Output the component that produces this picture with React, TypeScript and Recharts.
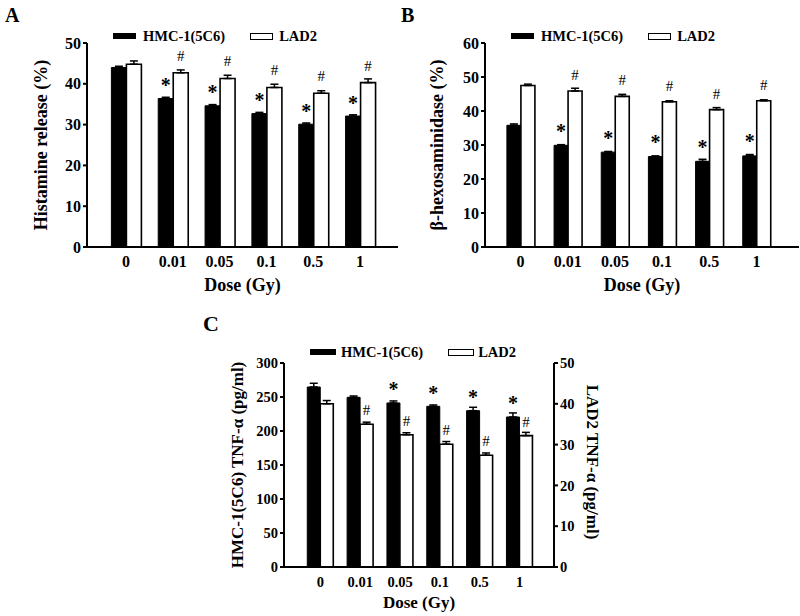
import React from 'react';
import { BarChart, Bar, XAxis, YAxis, ErrorBar, LabelList, Legend, Label } from 'recharts';

const FONT = '"Liberation Serif", "Times New Roman", serif';

// categories
const doses = ['0', '0.01', '0.05', '0.1', '0.5', '1'];

// Panel A: histamine release (%)
const histHmc = [44.0, 36.4, 34.6, 32.7, 30.1, 32.1];
const histHmcErr = [0.3, 0.3, 0.3, 0.3, 0.3, 0.3];
const histLad = [44.8, 42.7, 41.3, 39.1, 37.7, 40.3];
const histLadErr = [0.8, 0.7, 0.8, 0.8, 0.6, 0.9];
const histHmcMarks = ['', '*', '*', '*', '*', '*'];
const histLadMarks = ['', '#', '#', '#', '#', '#'];

// Panel B: beta-hexosaminidase (%)
const hexHmc = [35.8, 29.9, 27.9, 26.6, 25.2, 26.8];
const hexHmcErr = [0.4, 0.2, 0.2, 0.2, 0.6, 0.4];
const hexLad = [47.5, 45.9, 44.3, 42.7, 40.4, 43.0];
const hexLadErr = [0.4, 0.8, 0.6, 0.3, 0.6, 0.3];
const hexHmcMarks = ['', '*', '*', '*', '*', '*'];
const hexLadMarks = ['', '#', '#', '#', '#', '#'];

// Panel C: TNF-alpha (pg/ml)
const tnfHmc = [264.7, 249.5, 241.2, 236.3, 229.9, 220.6];
const tnfHmcErr = [5.5, 2, 3, 2, 5, 6];
const tnfLad = [40.0, 35.0, 32.4, 30.1, 27.4, 32.2];
const tnfLadErr = [0.8, 0.5, 0.5, 0.65, 0.55, 0.8];
const tnfHmcMarks = ['', '', '*', '*', '*', '*'];
const tnfLadMarks = ['', '#', '#', '#', '#', '#'];

// tick labels
const ticksA = [0, 10, 20, 30, 40, 50];
const ticksB = [0, 10, 20, 30, 40, 50, 60];
const ticksCLeft = [0, 50, 100, 150, 200, 250, 300];
const ticksCRight = [0, 10, 20, 30, 40, 50];

function buildRows(hmc: number[], hmcErr: number[], lad: number[], ladErr: number[], hm: string[], lm: string[]) {
  return doses.map((d, i) => ({
    dose: d,
    hmc: hmc[i],
    hmcErr: [0, hmcErr[i]],
    lad: lad[i],
    ladErr: [0, ladErr[i]],
    hmcMark: hm[i],
    ladMark: lm[i],
  }));
}

const rowsA = buildRows(histHmc, histHmcErr, histLad, histLadErr, histHmcMarks, histLadMarks);
const rowsB = buildRows(hexHmc, hexHmcErr, hexLad, hexLadErr, hexHmcMarks, hexLadMarks);
const rowsC = buildRows(tnfHmc, tnfHmcErr, tnfLad, tnfLadErr, tnfHmcMarks, tnfLadMarks);

const makeMark = (gap: number, kind: 'star' | 'hash') => (props: any) => {
  const vb = props.viewBox && props.viewBox.width != null ? props.viewBox : props;
  const value = props.value;
  if (!value) return null;
  const cx = Number(vb.x) + Number(vb.width) / 2;
  const cy = Number(vb.y) - gap;
  if (kind === 'star') {
    return (
      <text x={cx} y={cy + 9.5} textAnchor="middle" fontSize={20} fontWeight="bold" fontFamily={FONT} fill="#000">
        {value}
      </text>
    );
  }
  return (
    <text x={cx} y={cy + 5} textAnchor="middle" fontSize={15} fontFamily={FONT} fill="#000">
      {value}
    </text>
  );
};

const LegendBox = ({ blackW, textGap }: { blackW: number; textGap: number }) => (
  <div
    style={{
      display: 'flex',
      alignItems: 'center',
      fontFamily: FONT,
      fontWeight: 'bold',
      fontSize: 14.5,
      whiteSpace: 'nowrap',
      lineHeight: 1,
      color: '#000',
    }}
  >
    <span style={{ display: 'inline-block', width: blackW, height: 6, background: '#000' }} />
    <span style={{ marginLeft: textGap }}>HMC-1(5C6)</span>
    <span
      style={{
        display: 'inline-block',
        width: blackW,
        height: 7,
        boxSizing: 'border-box',
        border: '1.5px solid #000',
        background: '#fff',
        marginLeft: 25,
      }}
    />
    <span style={{ marginLeft: textGap - 1 }}>LAD2</span>
  </div>
);

const tickStyle = (size: number) => ({ fontFamily: FONT, fontSize: size, fontWeight: 'bold', fill: '#000' });
const axisLine = { stroke: '#000', strokeWidth: 2 };

const titleProps = (size: number) => ({ fontFamily: FONT, fontSize: size, fontWeight: 'bold', fill: '#000' });

type PanelProps = {
  rows: any[];
  width: number;
  height: number;
  marginTop: number;
  marginRight: number;
  yWidth: number;
  xHeight: number;
  yMax: number;
  yTicks: number[];
  yTitle: string;
  yTitleDx: number;
  padL: number;
  padR: number;
  gap: string;
  legendLeft: number;
  legendTop: number;
  starGap: number;
  hashGap: number;
};

function SimplePanel(p: PanelProps) {
  return (
    <BarChart
      width={p.width}
      height={p.height}
      data={p.rows}
      margin={{ top: p.marginTop, right: p.marginRight, left: 0, bottom: 0 }}
      barGap={0}
      barCategoryGap={p.gap}
    >
      <XAxis
        dataKey="dose"
        height={p.xHeight}
        axisLine={axisLine}
        tickLine={false}
        tickSize={6}
        tickMargin={3}
        padding={{ left: p.padL, right: p.padR }}
        tick={tickStyle(16)}
        interval={0}
      >
        <Label value="Dose (Gy)" position="center" dy={11.5} {...titleProps(18)} />
      </XAxis>
      <YAxis
        width={p.yWidth}
        domain={[0, p.yMax]}
        ticks={p.yTicks}
        interval={0}
        axisLine={axisLine}
        tickLine={{ stroke: '#000', strokeWidth: 2 }}
        tickSize={4}
        tickMargin={2}
        tick={tickStyle(16)}
      >
        <Label value={p.yTitle} angle={-90} position="center" dx={p.yTitleDx} {...titleProps(18)} />
      </YAxis>
      <Legend
        layout="vertical"
        align="center"
        verticalAlign="middle"
        wrapperStyle={{ left: p.legendLeft, top: p.legendTop, width: 'auto', height: 'auto' }}
        content={() => <LegendBox blackW={23} textGap={7} />}
      />
      <Bar dataKey="hmc" fill="#000" stroke="#000" strokeWidth={1} isAnimationActive={false}>
        <ErrorBar dataKey="hmcErr" width={4} stroke="#000" strokeWidth={1.5} direction="y" />
        <LabelList dataKey="hmcMark" content={makeMark(p.starGap, 'star')} />
      </Bar>
      <Bar dataKey="lad" fill="#fff" stroke="#000" strokeWidth={1.6} isAnimationActive={false}>
        <ErrorBar dataKey="ladErr" width={4} stroke="#000" strokeWidth={1.5} direction="y" />
        <LabelList dataKey="ladMark" content={makeMark(p.hashGap, 'hash')} />
      </Bar>
    </BarChart>
  );
}

function PanelC() {
  return (
    <BarChart
      width={440}
      height={316}
      data={rowsC}
      margin={{ top: 63, right: 0, left: 0, bottom: 0 }}
      barGap={0}
      barCategoryGap="17%"
    >
      <XAxis
        dataKey="dose"
        height={49}
        axisLine={axisLine}
        tickLine={false}
        tickSize={6}
        tickMargin={4}
        padding={{ left: 16.5, right: 14.5 }}
        tick={tickStyle(14.5)}
        interval={0}
      >
        <Label value="Dose (Gy)" position="center" dy={10.4} {...titleProps(17)} />
      </XAxis>
      <YAxis
        yAxisId="left"
        width={104}
        domain={[0, 300]}
        ticks={ticksCLeft}
        interval={0}
        axisLine={axisLine}
        tickLine={{ stroke: '#000', strokeWidth: 2 }}
        tickSize={4}
        tickMargin={2}
        tick={tickStyle(14.5)}
      >
        <Label value="HMC-1(5C6) TNF-α (pg/ml)" angle={-90} position="center" dx={5} {...titleProps(17)} />
      </YAxis>
      <YAxis
        yAxisId="right"
        orientation="right"
        width={66}
        domain={[0, 50]}
        ticks={ticksCRight}
        interval={0}
        axisLine={axisLine}
        tickLine={{ stroke: '#000', strokeWidth: 2 }}
        tickSize={4}
        tickMargin={2}
        tick={tickStyle(14.5)}
      >
        <Label value="LAD2 TNF-α (pg/ml)" angle={90} position="center" dx={6} dy={-3} {...titleProps(17)} />
      </YAxis>
      <Legend
        layout="vertical"
        align="center"
        verticalAlign="middle"
        wrapperStyle={{ left: 130, top: 45, width: 'auto', height: 'auto' }}
        content={() => <LegendBox blackW={26} textGap={5} />}
      />
      <Bar yAxisId="left" dataKey="hmc" fill="#000" stroke="#000" strokeWidth={1} isAnimationActive={false}>
        <ErrorBar dataKey="hmcErr" width={4} stroke="#000" strokeWidth={1.5} direction="y" />
        <LabelList dataKey="hmcMark" content={makeMark(16, 'star')} />
      </Bar>
      <Bar yAxisId="right" dataKey="lad" fill="#fff" stroke="#000" strokeWidth={1.6} isAnimationActive={false}>
        <ErrorBar dataKey="ladErr" width={4} stroke="#000" strokeWidth={1.5} direction="y" />
        <LabelList dataKey="ladMark" content={makeMark(14, 'hash')} />
      </Bar>
    </BarChart>
  );
}

const letterStyle = (size: number): React.CSSProperties => ({
  position: 'absolute',
  fontFamily: FONT,
  fontWeight: 'bold',
  fontSize: size,
  lineHeight: 1,
  color: '#000',
});

export default function App() {
  return (
    <div style={{ position: 'absolute', left: 0, top: 0, width: 800, height: 616, background: '#fff', overflow: 'hidden' }}>
      <div style={{ position: 'absolute', left: 0, top: 0 }}>
        <SimplePanel
          rows={rowsA}
          width={400}
          height={300}
          marginTop={43}
          marginRight={2}
          yWidth={87}
          xHeight={53}
          yMax={50}
          yTicks={ticksA}
          yTitle="Histamine release (%)"
          yTitleDx={-3}
          padL={15.5}
          padR={14.5}
          gap="19%"
          legendLeft={113}
          legendTop={29}
          starGap={16}
          hashGap={17}
        />
      </div>
      <div style={{ position: 'absolute', left: 400, top: 0 }}>
        <SimplePanel
          rows={rowsB}
          width={400}
          height={300}
          marginTop={43}
          marginRight={1}
          yWidth={85}
          xHeight={53}
          yMax={60}
          yTicks={ticksB}
          yTitle="β-hexosaminidase (%)"
          yTitleDx={-5.5}
          padL={12}
          padR={19}
          gap="21%"
          legendLeft={111}
          legendTop={29}
          starGap={17}
          hashGap={16}
        />
      </div>
      <div style={{ position: 'absolute', left: 180, top: 300 }}>
        <PanelC />
      </div>
      <div style={{ ...letterStyle(20), left: 5, top: 5 }}>A</div>
      <div style={{ ...letterStyle(20), left: 401, top: 5 }}>B</div>
      <div style={{ ...letterStyle(22), left: 203, top: 313 }}>C</div>
    </div>
  );
}
